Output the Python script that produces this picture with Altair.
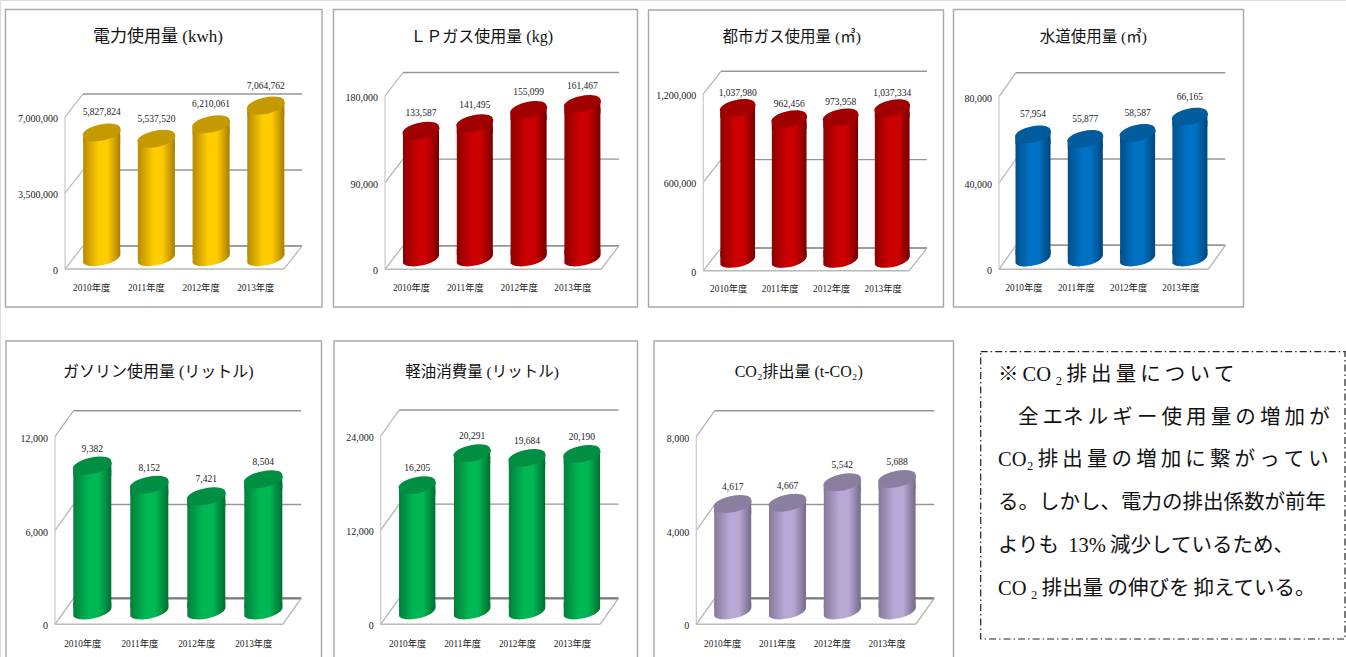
import altair as alt
import pandas as pd

years = ["2010年度", "2011年度", "2012年度", "2013年度"]

power_kwh = [5827824, 5537520, 6210061, 7064762]
lp_gas_kg = [133587, 141495, 155099, 161467]
city_gas_m3 = [1037980, 962456, 973958, 1037334]
water_m3 = [57954, 55877, 58587, 66165]
gasoline_l = [9382, 8152, 7421, 8504]
diesel_l = [16205, 20291, 19684, 20190]
co2_t = [4617, 4667, 5542, 5688]

# Thin spaces stretch the justified lines of the note to the box width.
TS = "\u2009"
note_lines = [
    TS.join(["※", f"CO{TS}₂", "排", "出", "量", "に", "つ", "い", "て"]),
    TS.join(["全", "エネ", "ル", "ギ", "ー", "使", "用", "量", "の", "増", "加", "が"]),
    TS.join(["CO₂", "排", "出", "量", "の", "増", "加", "に", "繋", "が", "っ", "て", "い"]),
    "る。しかし、電力の排出係数が前年",
    f"よりも{TS} 13%{TS}減少しているため、",
    f"CO{TS}₂{TS}排出量{TS}の伸びを{TS}抑えている。",
]
note_indent = [0, 1, 0, 0, 0, 0]

SERIF = "Liberation Serif, Noto Sans CJK JP"

# shade colours: edge left, centre, edge right, cap
YELLOW = ("#b88a00", "#ffcc00", "#a87e00", "#c49a00")
RED = ("#8e0000", "#cc0000", "#770000", "#a00000")
BLUE = ("#00508c", "#0072c4", "#00457a", "#005c9c")
GREEN = ("#00803c", "#00b853", "#006e34", "#008f42")
PURPLE = ("#85799a", "#b9a8d6", "#756a88", "#8b7f9f")


def shade(c):
    return alt.Gradient(
        gradient="linear", x1=0, x2=1, y1=0, y2=0,
        stops=[
            alt.GradientStop(offset=0, color=c[0]),
            alt.GradientStop(offset=0.42, color=c[1]),
            alt.GradientStop(offset=0.66, color=c[1]),
            alt.GradientStop(offset=1, color=c[2]),
        ],
    )


def cylinder_paths(half, tilt, ry):
    """Symbol paths, in pixels, for the tilted cap and the two body joints."""
    cap = f"M{-half},{tilt}A{half + 0.6},{ry} -12 1 1 {half},{-tilt}A{half + 0.6},{ry} -12 1 1 {-half},{tilt}Z"
    foot = f"M{-half},{-tilt - 6}L{-half},{tilt}A{half + 0.6},{ry} -12 0 0 {half},{-tilt}L{half},{-tilt - 6}Z"
    neck = f"M{-half},{tilt}L{-half},{tilt + 6}L{half},{tilt + 6}L{half},{-tilt}Z"
    return cap, foot, neck


def panel(values, ticks, title, colors, card, left, right, floor, top, dx, dy,
          first_centre, step, bar_w, lift, title_x, title_y, title_size,
          label_gap, year_dx, year_dy, floor_w=1.4, floor_color="#969696"):
    df = pd.DataFrame({"year": years, "value": values})
    tk = pd.DataFrame({"tick": ticks})
    base0 = pd.DataFrame({"tick": [0]})
    top_tick = pd.DataFrame({"tick": [ticks[-1]]})
    x_scale = alt.Scale(
        domain=years,
        range=[first_centre - step / 2, first_centre + step * 3.5],
        paddingInner=1 - bar_w / step,
        paddingOuter=(1 - bar_w / step) / 2,
    )
    y_scale = alt.Scale(domain=[0, ticks[-1]], range=[floor, top], nice=False, zero=True)
    X = alt.X("year:N", scale=x_scale, axis=None)
    Y = alt.Y("value:Q", scale=y_scale, axis=None)
    T = alt.Y("tick:Q", scale=y_scale, axis=None)
    cap, foot, neck = cylinder_paths(bar_w / 2, 4, 7.2)
    grad = shade(colors)

    card_df = pd.DataFrame({"t": [title]})
    base_df = df.assign(tick=0)
    return [
        alt.Chart(card_df).mark_rect(fill="white", stroke="#a8a8a8", strokeWidth=1.4).encode(
            x=alt.value(card[0]), x2=alt.value(card[2]), y=alt.value(card[1]), y2=alt.value(card[3])
        ),
        alt.Chart(card_df).mark_text(font=SERIF, fontSize=title_size, color="#111111").encode(
            x=alt.value(title_x), y=alt.value(title_y), text="t:N"
        ),
        # back wall gridlines
        alt.Chart(tk).mark_rule(color="#969696", strokeWidth=1.4, yOffset=-dy).encode(
            x=alt.value(left + dx), x2=alt.value(right + dx), y=T
        ),
        alt.Chart(base0).mark_rule(color=floor_color, strokeWidth=floor_w, yOffset=-dy).encode(
            x=alt.value(left + dx), x2=alt.value(right + dx), y=T
        ),
        # side wall diagonals
        alt.Chart(tk).mark_rule(color="#b0b0b0", strokeWidth=1.2, y2Offset=-dy).encode(
            x=alt.value(left), x2=alt.value(left + dx), y=T, y2=alt.Y2("tick:Q")
        ),
        # left wall edge
        alt.Chart(top_tick).mark_rule(color="#c8c8c8", strokeWidth=1.2).encode(
            x=alt.value(left), y=T, y2=alt.datum(0)
        ),
        # floor front edge and right diagonal
        alt.Chart(base0).mark_rule(color="#b8b8b8", strokeWidth=1.6).encode(
            x=alt.value(left), x2=alt.value(right), y=T
        ),
        alt.Chart(base0).mark_rule(color="#b0b0b0", strokeWidth=1.2, y2Offset=-dy).encode(
            x=alt.value(right), x2=alt.value(right + dx), y=T, y2=alt.Y2("tick:Q")
        ),
        # cylinders
        alt.Chart(base_df).mark_point(shape=foot, size=4, filled=True, fill=grad, opacity=1, yOffset=-lift).encode(
            x=X, y=T
        ),
        alt.Chart(df).mark_bar(fill=grad, yOffset=-lift + 4, y2Offset=-lift - 4).encode(
            x=X, y=Y, y2=alt.datum(0)
        ),
        alt.Chart(df).mark_point(shape=neck, size=4, filled=True, fill=grad, opacity=1, yOffset=-lift).encode(
            x=X, y=Y
        ),
        alt.Chart(df).mark_point(shape=cap, size=4, filled=True, fill=colors[3], opacity=1, yOffset=-lift).encode(
            x=X, y=Y
        ),
        # value labels above the caps
        alt.Chart(df).mark_text(font=SERIF, fontSize=9.5, color="#222222", dy=-lift - label_gap).encode(
            x=X, y=Y, text=alt.Text("value:Q", format=",")
        ),
        # axis labels
        alt.Chart(tk).mark_text(font=SERIF, fontSize=10, color="#222222", align="right", dy=2).encode(
            x=alt.value(left - 7), y=T, text=alt.Text("tick:Q", format=",")
        ),
        alt.Chart(base_df).mark_text(font=SERIF, fontSize=9.3, color="#222222", dx=year_dx, dy=year_dy).encode(
            x=X, y=T, text="year:N"
        ),
    ]


DARK = "#7c7c7c"
layers = []
layers += panel(power_kwh, [0, 3500000, 7000000], "電力使用量 (kwh)", YELLOW, (5.5, 9.5, 322, 307),
                65, 284, 269, 117, 18, 23, 101.7, 54.7, 37, 10, 158, 37, 17, 20, -10, 19)
layers += panel(lp_gas_kg, [0, 90000, 180000], "ＬＰガス使用量 (kg)", RED, (333.5, 9.5, 637.5, 307),
                385, 601, 269.3, 96, 18, 23.5, 421, 53.8, 36, 10, 481.7, 37, 16, 18, -9.5, 19)
layers += panel(city_gas_m3, [0, 600000, 1200000], "都市ガス使用量 (㎥)", RED, (648.5, 10, 943.5, 307),
                703.3, 909.3, 270.7, 94, 17.7, 22.7, 737.7, 51.5, 34.7, 10, 791.7, 37, 15.5, 15, -9, 18.5)
layers += panel(water_m3, [0, 40000, 80000], "水道使用量 (㎥)", BLUE, (953.5, 9.5, 1243.5, 307),
                999, 1208.3, 269.3, 96.7, 17, 24, 1033, 52.3, 35, 10, 1093.3, 37, 15.5, 20, -9, 19)
layers += panel(gasoline_l, [0, 6000, 12000], "ガソリン使用量 (リットル)", GREEN, (6, 341, 321.5, 680),
                55, 282.7, 624.3, 436.7, 18.5, 26, 92.3, 57, 38, 12, 158.3, 371.5, 16, 17, -9.5, 20, 2.2, DARK)
layers += panel(diesel_l, [0, 12000, 24000], "軽油消費量 (リットル)", GREEN, (334, 341, 637.5, 680),
                380.7, 600, 624.3, 436, 18.5, 26, 417.2, 54.9, 36.3, 12, 482, 371.5, 15.5, 17, -9.5, 20, 2.2, DARK)
layers += panel(co2_t, [0, 4000, 8000], "CO₂排出量 (t-CO₂)", PURPLE, (654, 341, 953.5, 680),
                696.3, 915.7, 624.3, 436.7, 18.5, 26, 732.7, 54.8, 37, 12, 798.7, 371.5, 16, 17, -10, 20, 2.2, DARK)

notes = pd.DataFrame({"i": list(range(len(note_lines))), "indent": note_indent, "line": note_lines})
layers += [
    alt.Chart(pd.DataFrame({"t": ["note"]})).mark_rect(
        fill="white", stroke="#222222", strokeWidth=1.2, strokeDash=[7, 3, 1.5, 3]
    ).encode(x=alt.value(980.7), x2=alt.value(1345), y=alt.value(351.7), y2=alt.value(639)),
    alt.Chart(notes).mark_text(font=SERIF, fontSize=20.5, color="#111111", align="left").encode(
        x=alt.X("indent:Q", scale=alt.Scale(domain=[0, 1], range=[998, 1018], nice=False, zero=False), axis=None),
        y=alt.Y("i:Q", scale=alt.Scale(domain=[0, 5], range=[375, 588.5], nice=False, zero=False), axis=None),
        text="line:N",
    ),
]

chart = (
    alt.layer(*layers)
    .resolve_scale(x="independent", y="independent")
    .properties(width=1346, height=657, padding=0, autosize=alt.AutoSizeParams(type="none"))
    .configure_view(stroke=None)
    .configure(background="white")
)

chart.save("out.html", embed_options={"renderer": "svg", "actions": False})
